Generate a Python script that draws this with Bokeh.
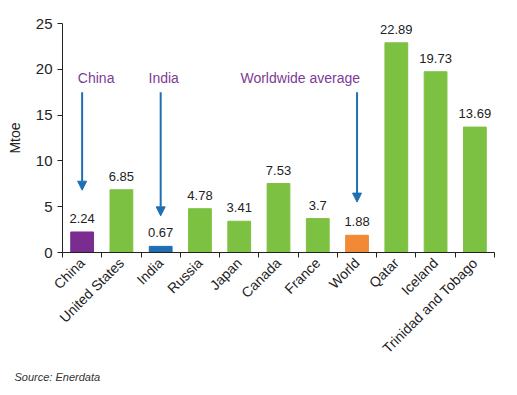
import math
from bokeh.plotting import figure
from bokeh.models import (ColumnDataSource, FixedTicker, Arrow, NormalHead, Label, Range1d, Title)
from bokeh.core.properties import value
from bokeh.embed import file_html
from bokeh.resources import INLINE

countries = ["China", "United States", "India", "Russia", "Japan", "Canada",
             "France", "World", "Qatar", "Iceland", "Trinidad and Tobago"]
values = [2.24, 6.85, 0.67, 4.78, 3.41, 7.53, 3.7, 1.88, 22.89, 19.73, 13.69]
labels = ["2.24", "6.85", "0.67", "4.78", "3.41", "7.53", "3.7", "1.88", "22.89", "19.73", "13.69"]
colors = ["#7B2C90", "#7DC142", "#1F6FB2", "#7DC142", "#7DC142", "#7DC142",
          "#7DC142", "#F28A35", "#7DC142", "#7DC142", "#7DC142"]
y_ticks = [0, 5, 10, 15, 20, 25]

# annotations: (text, category index, arrow top, arrow tip)
annotations = [("China", 0, 17.5, 6.8), ("India", 2, 17.5, 4.0), ("Worldwide average", 7, 17.5, 5.5)]

n = len(countries)
centers = [i + 0.5 for i in range(n)]
src = ColumnDataSource(dict(x=centers, top=values, lab=labels, color=colors))

FONT = "Liberation Sans"
W, H = 509, 387

p = figure(width=W, height=H, output_backend="svg", toolbar_location=None,
           x_range=Range1d(0, n), y_range=Range1d(0, 25))
p.min_border_left = 62
p.min_border_right = W - 494
p.min_border_top = 23
p.min_border_bottom = H - 252
p.outline_line_color = None
p.xgrid.visible = False
p.ygrid.visible = False
p.background_fill_color = "white"
p.border_fill_color = "white"

p.vbar(x="x", top="top", width=0.58, color="color", source=src)
p.text(x="x", y="top", text="lab", source=src, text_align="center", text_baseline="bottom",
       y_offset=-9, text_font=value(FONT), text_font_size="13px", text_color="#222222")

# x axis
xa = p.xaxis[0]
xa.ticker = FixedTicker(ticks=centers, minor_ticks=list(range(n + 1)))
xa.major_label_overrides = {c: name for c, name in zip(centers, countries)}
xa.major_label_orientation = math.pi / 4
xa.major_tick_line_color = None
xa.minor_tick_line_color = "#222222"
xa.minor_tick_in = 0
xa.minor_tick_out = 5
xa.axis_line_color = "#222222"
xa.major_label_text_font = FONT
xa.major_label_text_font_size = "14px"
xa.major_label_text_color = "#222222"
xa.major_label_standoff = 2

ya = p.yaxis[0]
ya.ticker = FixedTicker(ticks=y_ticks)
ya.minor_tick_line_color = None
ya.major_tick_in = 0
ya.major_tick_out = 5
ya.axis_line_color = "#222222"
ya.major_tick_line_color = "#222222"
ya.major_label_text_font = FONT
ya.major_label_text_font_size = "15px"
ya.major_label_text_color = "#222222"
ya.axis_label = "Mtoe"
ya.axis_label_text_font = FONT
ya.axis_label_text_font_style = "normal"
ya.axis_label_text_font_size = "14px"
ya.axis_label_text_color = "#222222"
ya.axis_label_standoff = 10

for text, idx, top, tip in annotations:
    x = centers[idx]
    p.add_layout(Arrow(end=NormalHead(size=9, fill_color="#1F6FB2", line_color="#1F6FB2"),
                       x_start=x, y_start=top, x_end=x, y_end=tip,
                       line_color="#1F6FB2", line_width=2))
    if text == "Worldwide average":
        lab = Label(x=x, y=top, text=text, text_align="right", text_baseline="bottom",
                    x_offset=3, y_offset=6)
    else:
        lab = Label(x=x, y=top, text=text, text_align="center", text_baseline="bottom",
                    x_offset=14 if idx == 0 else 3, y_offset=6)
    lab.text_font = FONT
    lab.text_font_size = "14px"
    lab.text_color = "#7E3B96"
    p.add_layout(lab)

src_title = Title(text="Source: Enerdata", align="left", offset=-48, standoff=9,
                  text_font=FONT, text_font_style="italic", text_font_size="11px",
                  text_color="#333333")
p.add_layout(src_title, "below")

open("out.html", "w").write(file_html(p, INLINE))
